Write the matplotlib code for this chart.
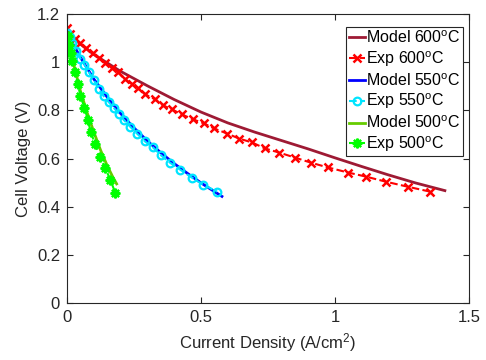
import matplotlib
matplotlib.use("Agg")
import matplotlib.pyplot as plt

plt.rcParams['font.family'] = ['Liberation Sans', 'DejaVu Sans']
plt.rcParams['mathtext.fontset'] = 'custom'
plt.rcParams['mathtext.rm'] = 'Liberation Sans'
plt.rcParams['mathtext.it'] = 'Liberation Sans:italic'

# model 600C
i_m600 = [0.0, 0.05, 0.1, 0.2, 0.3, 0.4, 0.5, 0.6, 0.7, 0.8, 0.9, 1.0, 1.1, 1.2, 1.3, 1.41]
v_m600 = [1.13, 1.075, 1.032, 0.962, 0.902, 0.845, 0.793, 0.748, 0.71, 0.675, 0.64, 0.603, 0.567, 0.532, 0.499, 0.467]
# exp 600C
i_e600 = [0.0, 0.012, 0.03, 0.05, 0.072, 0.095, 0.118, 0.142, 0.166, 0.19, 0.215, 0.243, 0.265,
          0.291, 0.328, 0.358, 0.392, 0.429, 0.47, 0.511, 0.549, 0.597, 0.642, 0.69, 0.739,
          0.791, 0.851, 0.91, 0.974, 1.049, 1.116, 1.19, 1.272, 1.354]
v_e600 = [1.14, 1.118, 1.098, 1.078, 1.058, 1.038, 1.018, 0.998, 0.978, 0.958, 0.93, 0.908, 0.892,
          0.867, 0.846, 0.821, 0.804, 0.783, 0.763, 0.746, 0.725, 0.704, 0.683, 0.667, 0.642,
          0.625, 0.604, 0.583, 0.563, 0.542, 0.525, 0.504, 0.483, 0.463]
# model 550C
i_m550 = [0.0, 0.05, 0.1, 0.15, 0.2, 0.25, 0.3, 0.35, 0.4, 0.45, 0.5, 0.55, 0.578]
v_m550 = [1.12, 1.02, 0.93, 0.855, 0.787, 0.727, 0.673, 0.624, 0.579, 0.538, 0.499, 0.463, 0.443]
# exp 550C
i_e550 = [0.0, 0.011, 0.02, 0.035, 0.05, 0.065, 0.082, 0.1, 0.118, 0.136, 0.155, 0.175, 0.193,
          0.212, 0.235, 0.261, 0.291, 0.321, 0.351, 0.384, 0.422, 0.466, 0.507, 0.56]
v_e550 = [1.12, 1.105, 1.08, 1.045, 1.015, 0.99, 0.958, 0.925, 0.89, 0.86, 0.835, 0.81, 0.787,
          0.76, 0.733, 0.704, 0.671, 0.646, 0.613, 0.583, 0.554, 0.521, 0.492, 0.463]
# model 500C
i_m500 = [0.0, 0.01, 0.025, 0.05, 0.075, 0.1, 0.125, 0.15, 0.17, 0.185]
v_m500 = [1.12, 1.07, 0.99, 0.88, 0.79, 0.71, 0.635, 0.57, 0.525, 0.495]
# exp 500C
i_e500 = [0.002, 0.008, 0.013, 0.019, 0.03, 0.041, 0.05, 0.065, 0.077, 0.088, 0.104, 0.123, 0.143, 0.162, 0.18]
v_e500 = [1.11, 1.07, 1.04, 1.004, 0.958, 0.908, 0.858, 0.812, 0.762, 0.712, 0.662, 0.608, 0.56, 0.51, 0.458]

deg = r'$^{\rm o}$C'

fig = plt.figure(figsize=(4.86, 3.6), dpi=100)
ax = fig.add_axes([0.138, 0.158, 0.827, 0.803])

ax.plot(i_m600, v_m600, '-', color='#9e1a34', lw=2, label='Model 600' + deg)
ax.plot(i_e600, v_e600, '--x', color='#ff0000', lw=1.5, ms=5.5, mew=1.8, label='Exp 600' + deg)
ax.plot(i_m550, v_m550, '-', color='#0000ff', lw=2, label='Model 550' + deg)
ax.plot(i_e550, v_e550, '--o', color='#00e5ff', lw=1.5, ms=5.5, mew=1.6, mfc='none', label='Exp 550' + deg)
ax.plot(i_m500, v_m500, '-', color='#66cc00', lw=2, label='Model 500' + deg)
ax.plot(i_e500, v_e500, '--', marker=(8, 2, 0), color='#00ff00', lw=1.5, ms=7, mew=1.6, label='Exp 500' + deg)

ax.set_xlim(0, 1.5)
ax.set_ylim(0, 1.2)
ax.set_xticks([0, 0.5, 1, 1.5])
ax.set_xticklabels(['0', '0.5', '1', '1.5'])
ax.set_yticks([0, 0.2, 0.4, 0.6, 0.8, 1.0, 1.2])
ax.set_yticklabels(['0', '0.2', '0.4', '0.6', '0.8', '1', '1.2'])
ax.tick_params(direction='in', top=True, right=True, length=4, width=0.8,
               labelsize=12, colors='#262626', pad=5)
for s in ax.spines.values():
    s.set_color('#262626')
    s.set_linewidth(0.8)

ax.set_xlabel('Current Density (A/cm$^2$)', fontsize=12, color='#262626')
ax.set_ylabel('Cell Voltage (V)', fontsize=12, color='#262626')

leg = ax.legend(loc='upper right', bbox_to_anchor=(0.985, 0.955), fontsize=11.5,
                handlelength=1.0, handletextpad=0.1, borderpad=0.15, labelspacing=0.2,
                borderaxespad=0, fancybox=False, framealpha=1)
leg.get_frame().set_edgecolor('#262626')
leg.get_frame().set_linewidth(0.8)

fig.savefig('out.png', dpi=100)
